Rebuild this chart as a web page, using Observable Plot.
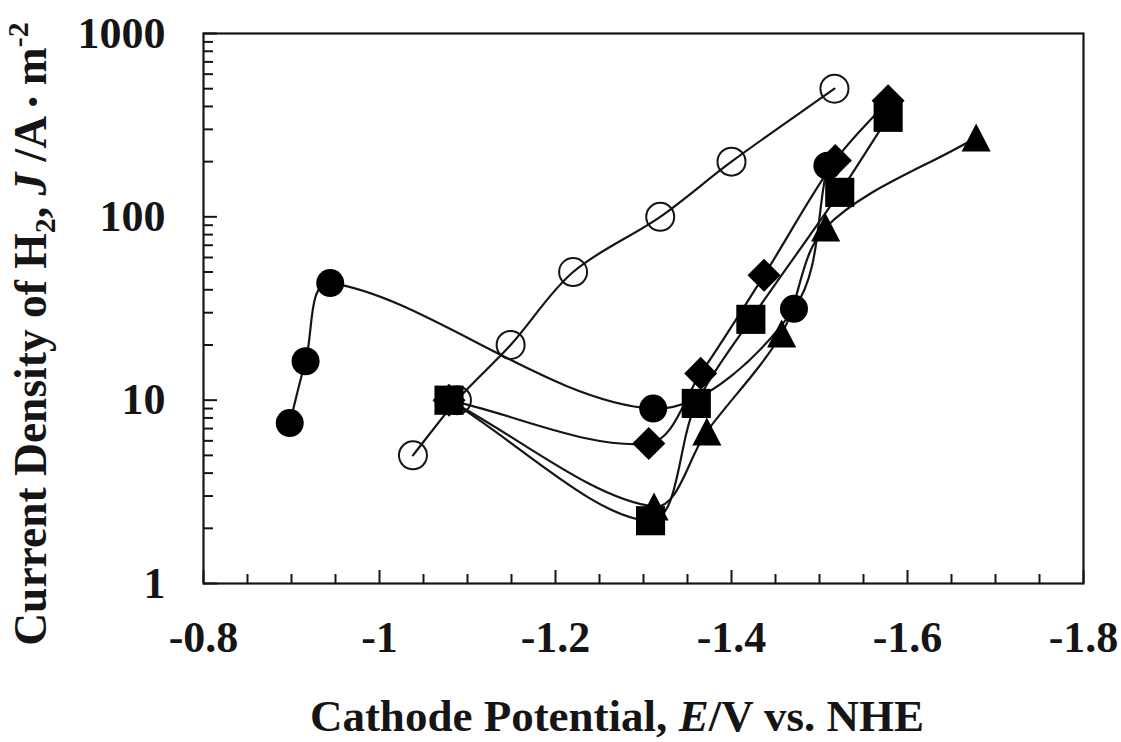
<!DOCTYPE html>
<html><head><meta charset="utf-8">
<script src="https://cdn.jsdelivr.net/npm/d3@7"></script>
<script src="https://cdn.jsdelivr.net/npm/@observablehq/plot@0.6"></script>
<style>body{margin:0;background:#fff}</style>
</head><body><div id="chart"></div>
<script>
// ---- data ----
const filledCircleE = [-0.898, -0.916, -0.944, -1.311, -1.471, -1.509];
const filledCircleJ = [7.5, 16.3, 43.5, 9.0, 31.5, 190];
const openCircleE = [-1.038, -1.088, -1.149, -1.220, -1.319, -1.400, -1.517];
const openCircleJ = [5, 10, 20, 50, 100, 200, 500];
const diamondE = [-1.079, -1.306, -1.365, -1.437, -1.518, -1.578];
const diamondJ = [10, 5.8, 14, 48, 203, 430];
const squareE = [-1.079, -1.308, -1.360, -1.422, -1.523, -1.578];
const squareJ = [10, 2.2, 9.6, 27.6, 136, 349];
const triangleE = [-1.079, -1.312, -1.372, -1.457, -1.507, -1.678];
const triangleJ = [10, 2.63, 6.75, 23.1, 87.5, 271];
const xTickLabels = [-0.8, -1, -1.2, -1.4, -1.6, -1.8];
const yTickLabels = [1, 10, 100, 1000];

const toRows = (E, J) => E.map((e, i) => ({E: e, J: J[i]}));
const filledCircle = toRows(filledCircleE, filledCircleJ);
const openCircle = toRows(openCircleE, openCircleJ);
const diamond = toRows(diamondE, diamondJ);
const square = toRows(squareE, squareJ);
const triangle = toRows(triangleE, triangleJ);

// tick positions
const xMinor = d3.range(-0.85, -1.8, -0.05).map(v => +v.toFixed(2)).filter(v => !xTickLabels.some(t => Math.abs(t - v) < 1e-6));
const yMinor = [];
for (const k of [1, 10, 100]) for (let m = 2; m <= 9; m++) yMinor.push(m * k);

// spreadsheet-like smoothing curve (chord-weighted Catmull-Rom Bezier)
function SmoothCurve(context) { this._context = context; }
SmoothCurve.prototype = {
  areaStart() {}, areaEnd() {},
  lineStart() { this._pts = []; },
  point(x, y) { this._pts.push([+x, +y]); },
  lineEnd() {
    const p = this._pts, c = this._context, n = p.length;
    if (!n) return;
    c.moveTo(p[0][0], p[0][1]);
    if (n === 2) { c.lineTo(p[1][0], p[1][1]); return; }
    const s = 1 / 3;
    const dist = (a, b) => Math.hypot(b[0] - a[0], b[1] - a[1]);
    for (let i = 0; i < n - 1; i++) {
      const p0 = p[Math.max(i - 1, 0)], p1 = p[i], p2 = p[i + 1], p3 = p[Math.min(i + 2, n - 1)];
      const d01 = dist(p0, p1), d12 = dist(p1, p2), d23 = dist(p2, p3);
      const k1 = d01 + d12 > 0 ? s * d12 / (d01 + d12) : 0;
      const k2 = d12 + d23 > 0 ? s * d12 / (d12 + d23) : 0;
      c.bezierCurveTo(
        p1[0] + (p2[0] - p0[0]) * k1, p1[1] + (p2[1] - p0[1]) * k1,
        p2[0] - (p3[0] - p1[0]) * k2, p2[1] - (p3[1] - p1[1]) * k2,
        p2[0], p2[1]);
    }
  }
};
const smooth = ctx => new SmoothCurve(ctx);

// custom symbols (size = pi r^2)
const sym = f => ({draw(c, size) { f(c, Math.sqrt(size / Math.PI)); }});
const circleSym = sym((c, r) => { c.moveTo(r, 0); c.arc(0, 0, r, 0, 2 * Math.PI); });
const squareSym = sym((c, r) => { const h = r * 1.04; c.rect(-h, -h, 2 * h, 2 * h); });
const diamondSym = sym((c, r) => { const h = r * 1.18; c.moveTo(0, -h); c.lineTo(h, 0); c.lineTo(0, h); c.lineTo(-h, 0); c.closePath(); });
const triangleSym = sym((c, r) => { const w = r * 1.04, h = r * 1.0; c.moveTo(0, -h); c.lineTo(w, h); c.lineTo(-w, h); c.closePath(); });

const W = 1121, H = 742, ML = 203, MR = 38, MT = 33, MB = 159;
const PW = W - ML - MR, PH = H - MT - MB;
const ink = "#151515";
const lineOpts = {x: "E", y: "J", curve: smooth, stroke: ink, strokeWidth: 2.2};

const plot = Plot.plot({
  width: W, height: H,
  marginLeft: ML, marginRight: MR, marginTop: MT, marginBottom: MB,
  style: {fontFamily: "'Liberation Serif', 'Times New Roman', serif", fontSize: "44px", fontWeight: "bold", color: ink, background: "#fff"},
  x: {domain: [-0.8, -1.8]},
  y: {type: "log", domain: [1, 1000]},
  marks: [
    Plot.axisX({ticks: xTickLabels, tickSize: 0, tickPadding: 37, tickFormat: d => String(d), label: null}),
    Plot.axisY({ticks: yTickLabels, tickSize: 0, tickPadding: 38, tickFormat: d => String(d), label: null}),
    Plot.ruleX(xMinor, {insetTop: PH - 9, stroke: ink, strokeWidth: 2}),
    Plot.ruleX(xTickLabels, {insetTop: PH - 13, stroke: ink, strokeWidth: 2}),
    Plot.ruleY(yMinor, {insetRight: PW - 10, stroke: ink, strokeWidth: 2}),
    Plot.ruleY(yTickLabels, {insetRight: PW - 14, stroke: ink, strokeWidth: 2}),
    Plot.frame({stroke: ink, strokeWidth: 2.2}),
    Plot.line(filledCircle, lineOpts),
    Plot.line(openCircle, lineOpts),
    Plot.line(diamond, lineOpts),
    Plot.line(square, lineOpts),
    Plot.line(triangle, lineOpts),
    Plot.dot(openCircle, {x: "E", y: "J", r: 14, symbol: circleSym, fill: "none", stroke: ink, strokeWidth: 2}),
    Plot.dot(filledCircle, {x: "E", y: "J", r: 14, symbol: circleSym, fill: "#000", stroke: "none"}),
    Plot.dot(triangle, {x: "E", y: "J", r: 14, symbol: triangleSym, fill: "#000", stroke: "none"}),
    Plot.dot(diamond, {x: "E", y: "J", r: 14, symbol: diamondSym, fill: "#000", stroke: "none"}),
    Plot.dot(square, {x: "E", y: "J", r: 14, symbol: squareSym, fill: "#000", stroke: "none"})
  ]
});
document.getElementById("chart").appendChild(plot);

// axis titles with rich text (italic symbols, sub/superscripts)
const svg = d3.select(plot);
const font = "'Liberation Serif', 'Times New Roman', serif";
const xt = svg.append("text")
  .attr("x", 617).attr("y", 731)
  .attr("text-anchor", "middle")
  .attr("font-family", font).attr("font-size", 45).attr("font-weight", "bold").attr("fill", ink);
xt.append("tspan").text("Cathode Potential, ");
xt.append("tspan").attr("font-style", "italic").text("E");
xt.append("tspan").text("/V vs. NHE");

const yt = svg.append("text")
  .attr("transform", "translate(46,334) rotate(-90)")
  .attr("text-anchor", "middle")
  .attr("font-family", font).attr("font-size", 45.5).attr("font-weight", "bold").attr("fill", ink);
yt.append("tspan").text("Current Density of H");
yt.append("tspan").attr("font-size", 30).attr("dy", 9).text("2");
yt.append("tspan").attr("dy", -9).text(", ");
yt.append("tspan").attr("font-style", "italic").text("J");
yt.append("tspan").text(" /A ");
yt.append("tspan").attr("font-size", 30).attr("dy", -3).text("\u2022");
yt.append("tspan").attr("dy", 3).text(" m");
yt.append("tspan").attr("font-size", 30).attr("dy", -18).text("-2");
</script>
</body></html>
